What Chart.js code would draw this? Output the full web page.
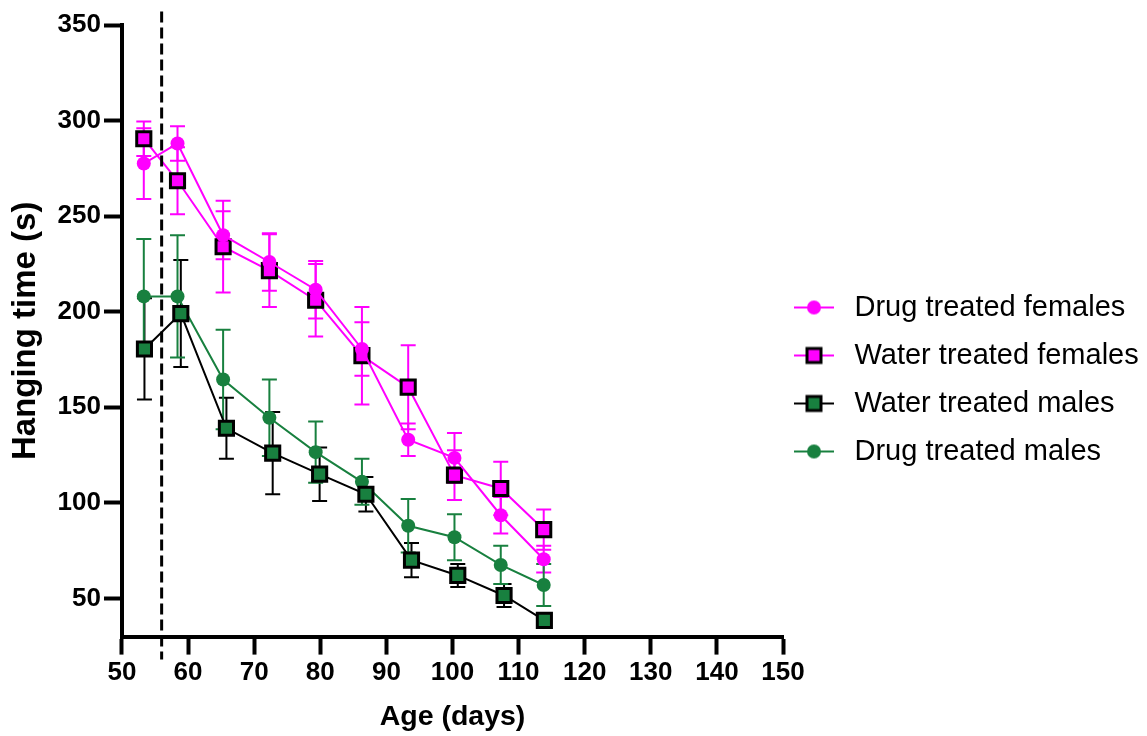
<!DOCTYPE html>
<html>
<head>
<meta charset="utf-8">
<title>Hanging time by age</title>
<script src="https://cdn.jsdelivr.net/npm/chart.js@4.4.1/dist/chart.umd.min.js"></script>
<style>
  html, body { margin: 0; padding: 0; background: #fff; }
  #wrap { width: 1147px; height: 736px; }
</style>
</head>
<body>
<div id="wrap"><canvas id="hangChart" width="1147" height="736"></canvas></div>
<script>
// ages (days) at each test
const ageDays = [53.3, 58.4, 65.3, 72.3, 79.3, 86.3, 93.3, 100.3, 107.3, 113.8];
const ageDaysWaterMales = [53.4, 58.9, 65.8, 72.8, 79.9, 86.9, 93.8, 100.8, 107.8, 113.9];

// mean hanging time (s) and SEM per group
const drugFemales = [277.5, 288, 240, 226, 211.5, 180.5, 133, 123.5, 93.5, 70.5];
const drugFemalesSem = [18.5, 9, 12.5, 15, 15, 14, 8.5, 13, 9.5, 7];
const waterFemales = [290.5, 268.5, 234, 221.5, 206, 177, 160.5, 114.5, 107.5, 86];
const waterFemalesSem = [9, 17.5, 24, 19, 19, 25.5, 22, 13, 14, 10.5];
const waterMales = [180.5, 199, 139, 126, 115, 104.5, 70, 62, 51.5, 38.5];
const waterMalesSem = [26.5, 28, 16, 21.5, 14, 9, 9, 6, 6, 2];
const drugMales = [208, 208, 164.5, 144.5, 126.5, 111, 88, 82, 67.5, 57];
const drugMalesSem = [30, 32, 26, 20, 16, 12, 14, 12, 10, 11];

const xTickValues = [50, 60, 70, 80, 90, 100, 110, 120, 130, 140, 150];
const yTickValues = [50, 100, 150, 200, 250, 300, 350];
const treatmentStartDay = 56;

const MAGENTA = '#ff00ff';
const GREEN = '#18803f';
const FONT = 'Arial, "Liberation Sans", Helvetica, sans-serif';

const toPoints = (xs, ys) => ys.map((v, i) => ({x: xs[i], y: v}));

// small line + marker icon for the legend
function legendIcon(lineColor, shape, fill, edge) {
    const c = document.createElement('canvas');
    c.width = 54; c.height = 24;
    const g = c.getContext('2d');
    g.strokeStyle = lineColor; g.lineWidth = 2;
    g.beginPath(); g.moveTo(0, 12); g.lineTo(40, 12); g.stroke();
    g.fillStyle = fill;
    if (shape === 'circle') {
        g.beginPath(); g.arc(20, 12, 7, 0, Math.PI * 2); g.fill();
    } else {
        g.fillRect(13, 5, 14, 14);
        g.strokeStyle = edge; g.lineWidth = 3;
        g.strokeRect(13, 5, 14, 14);
    }
    return c;
}

// SEM whiskers, drawn under the lines and markers
const errorBars = {
    id: 'errorBars',
    beforeDatasetsDraw(chart) {
        const {ctx, scales: {x, y}} = chart;
        chart.data.datasets.forEach((ds, i) => {
            if (!chart.isDatasetVisible(i)) return;
            ctx.save();
            ctx.strokeStyle = ds.errorColor;
            ctx.lineWidth = 2;
            ds.data.forEach((pt, j) => {
                const px = x.getPixelForValue(pt.x);
                const top = y.getPixelForValue(pt.y + ds.sem[j]);
                const bot = y.getPixelForValue(pt.y - ds.sem[j]);
                ctx.beginPath();
                ctx.moveTo(px, top); ctx.lineTo(px, bot);
                ctx.moveTo(px - 7.5, top); ctx.lineTo(px + 7.5, top);
                ctx.moveTo(px - 7.5, bot); ctx.lineTo(px + 7.5, bot);
                ctx.stroke();
            });
            ctx.restore();
        });
    }
};

// dashed marker for the start of treatment
const startLine = {
    id: 'startLine',
    afterDatasetsDraw(chart) {
        const {ctx, scales: {x, y}} = chart;
        const px = x.getPixelForValue(treatmentStartDay);
        ctx.save();
        ctx.strokeStyle = '#000';
        ctx.lineWidth = 3;
        ctx.setLineDash([11, 5]);
        ctx.beginPath();
        ctx.moveTo(px, y.getPixelForValue(357));
        ctx.lineTo(px, y.getPixelForValue(18));
        ctx.stroke();
        ctx.restore();
    }
};

const ctx = document.getElementById('hangChart').getContext('2d');

new Chart(ctx, {
    type: 'line',
    data: {
        datasets: [{
            label: 'Drug treated females',
            data: toPoints(ageDays, drugFemales),
            sem: drugFemalesSem,
            errorColor: MAGENTA,
            borderColor: MAGENTA,
            borderWidth: 2,
            pointStyle: 'circle',
            pointRadius: 7,
            pointBorderWidth: 0,
            pointBackgroundColor: MAGENTA,
            icon: legendIcon(MAGENTA, 'circle', MAGENTA)
        }, {
            label: 'Water treated females',
            data: toPoints(ageDays, waterFemales),
            sem: waterFemalesSem,
            errorColor: MAGENTA,
            borderColor: MAGENTA,
            borderWidth: 2,
            pointStyle: 'rect',
            pointRadius: 10,
            pointBorderWidth: 3,
            pointBorderColor: '#000',
            pointBackgroundColor: MAGENTA,
            icon: legendIcon(MAGENTA, 'rect', MAGENTA, '#000')
        }, {
            label: 'Water treated males',
            data: toPoints(ageDaysWaterMales, waterMales),
            sem: waterMalesSem,
            errorColor: '#000',
            borderColor: '#000',
            borderWidth: 2,
            pointStyle: 'rect',
            pointRadius: 10,
            pointBorderWidth: 3,
            pointBorderColor: '#000',
            pointBackgroundColor: GREEN,
            icon: legendIcon('#000', 'rect', GREEN, '#000')
        }, {
            label: 'Drug treated males',
            data: toPoints(ageDays, drugMales),
            sem: drugMalesSem,
            errorColor: GREEN,
            borderColor: GREEN,
            borderWidth: 2,
            pointStyle: 'circle',
            pointRadius: 7,
            pointBorderWidth: 0,
            pointBackgroundColor: GREEN,
            icon: legendIcon(GREEN, 'circle', GREEN)
        }]
    },
    options: {
        responsive: false,
        animation: false,
        layout: {padding: {left: 6, right: 7, top: 25, bottom: 2}},
        scales: {
            x: {
                type: 'linear',
                min: 50,
                max: 150,
                afterBuildTicks: axis => { axis.ticks = xTickValues.map(v => ({value: v})); },
                border: {color: '#000', width: 4},
                grid: {drawOnChartArea: false, tickLength: 18, tickWidth: 4, tickColor: '#000'},
                ticks: {color: '#000', padding: 3, maxRotation: 0, font: {family: FONT, size: 26, weight: 'bold'}},
                title: {
                    display: true,
                    text: 'Age (days)',
                    color: '#000',
                    padding: {top: 8, bottom: 0},
                    font: {family: FONT, size: 28.5, weight: 'bold'}
                }
            },
            y: {
                min: 30,
                max: 350,
                afterBuildTicks: axis => { axis.ticks = yTickValues.map(v => ({value: v})); },
                border: {color: '#000', width: 4},
                grid: {drawOnChartArea: false, tickLength: 18, tickWidth: 4, tickColor: '#000'},
                ticks: {color: '#000', padding: 3, font: {family: FONT, size: 26, weight: 'bold'}},
                title: {
                    display: true,
                    text: 'Hanging time (s)',
                    color: '#000',
                    padding: {top: 0, bottom: 9},
                    font: {family: FONT, size: 33, weight: 'bold'}
                }
            }
        },
        plugins: {
            tooltip: {enabled: false},
            legend: {
                position: 'right',
                maxWidth: 357,
                labels: {
                    usePointStyle: true,
                    pointStyleWidth: 38,
                    padding: 19,
                    color: '#000',
                    font: {family: FONT, size: 29},
                    generateLabels: chart => chart.data.datasets.map((ds, i) => ({
                        text: ds.label,
                        pointStyle: ds.icon,
                        fillStyle: ds.borderColor,
                        strokeStyle: ds.borderColor,
                        lineWidth: 0,
                        fontColor: '#000',
                        hidden: !chart.isDatasetVisible(i),
                        datasetIndex: i
                    }))
                }
            }
        }
    },
    plugins: [errorBars, startLine]
});
</script>
</body>
</html>
